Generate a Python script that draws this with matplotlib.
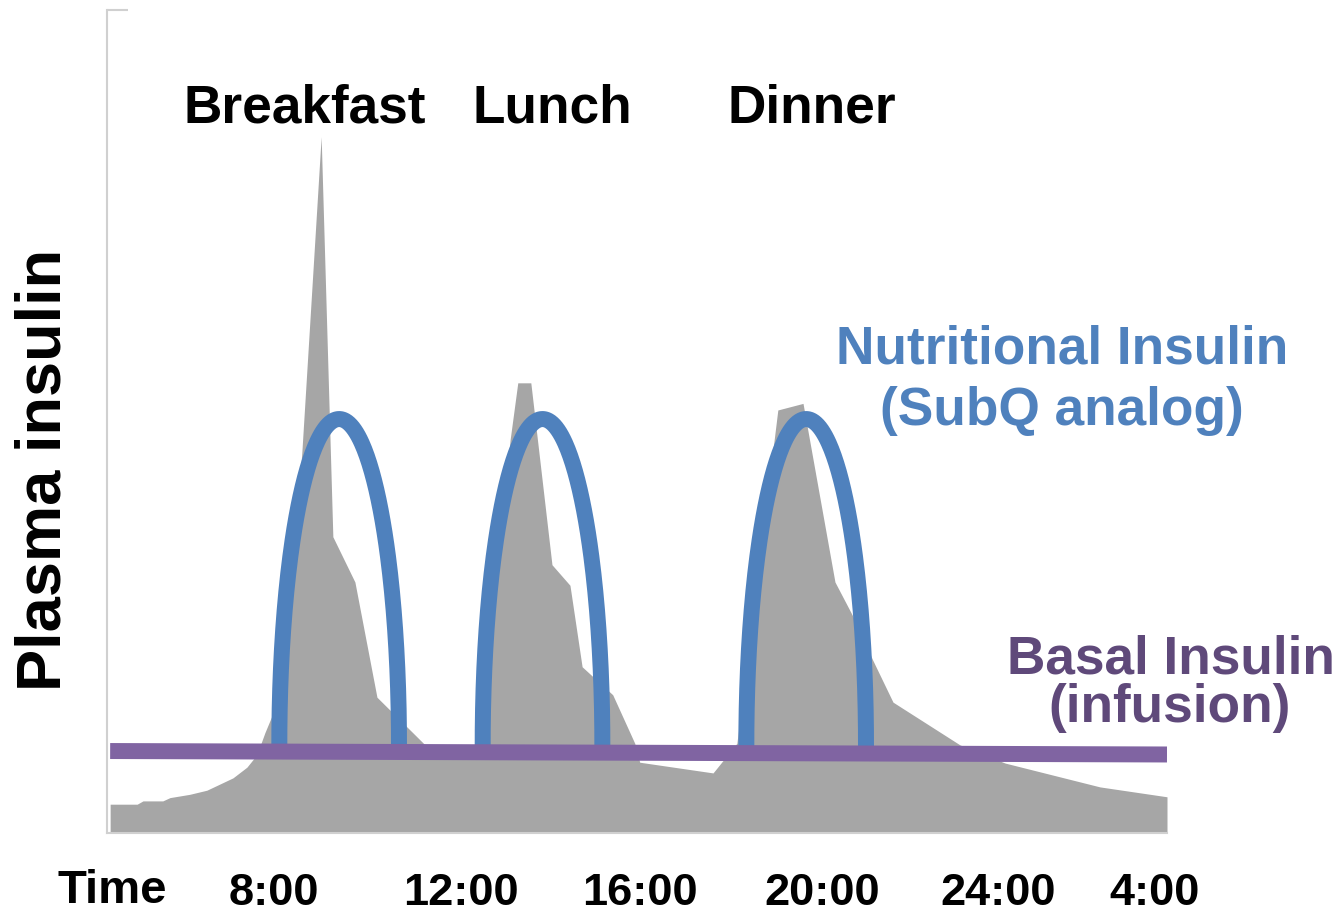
import matplotlib.pyplot as plt
import numpy as np

plt.rcParams['font.family'] = ['Liberation Sans', 'DejaVu Sans']
plt.rcParams['font.weight'] = 'bold'

# physiological plasma insulin profile over the day (hours, relative level 0-100)
profile_hours = [4.37, 4.97, 5.10, 5.54, 5.70, 6.14, 6.52, 7.10, 7.41, 7.63, 7.81, 7.97,
                 8.37, 8.63, 9.06, 9.32, 9.81, 10.30, 11.37, 12.59, 12.66, 12.92, 13.26,
                 13.43, 13.72, 14.19, 14.59, 14.86, 15.54, 16.03, 16.14, 17.77, 18.30,
                 19.21, 19.77, 20.48, 20.92, 21.32, 21.77, 23.26, 24.26, 26.37, 27.86]
profile_level = [3.5, 3.5, 3.9, 3.9, 4.3, 4.7, 5.2, 6.7, 8.0, 9.5, 12.2, 14.3,
                 28.3, 46.2, 84.6, 36.0, 30.5, 16.5, 10.7, 10.1, 8.9, 28.3, 47.8,
                 54.7, 54.7, 32.6, 30.1, 20.2, 16.8, 10.9, 8.6, 7.3, 10.9,
                 51.4, 52.2, 30.5, 25.9, 21.0, 15.9, 10.7, 8.5, 5.6, 4.4]

# subcutaneous analog boluses: centre hour, half width (h), foot and peak level
bolus_centers = [9.46, 13.98, 19.84]
bolus_halfwidth = 1.33
bolus_foot = 10.7
bolus_peak = 50.3

# basal infusion line
basal_hours = [4.37, 27.86]
basal_level = [9.96, 9.54]

meals = ['Breakfast', 'Lunch', 'Dinner']
meal_hours = [8.70, 14.19, 19.97]

tick_pos = [8.0, 12.17, 16.14, 20.19, 24.1, 27.59]
tick_labels = ['8:00', '12:00', '16:00', '20:00', '24:00', '4:00']

BLUE = '#4F81BD'
PURPLE = '#8064A2'
PURPLE_TEXT = '#5F497A'
GRAY = '#A6A6A6'
FS = 38.3

fig = plt.figure(figsize=(13.41, 9.11), dpi=100)
ax = fig.add_axes([107 / 1341, 1 - 833 / 911, 1060 / 1341, 823 / 911])

ax.fill_between(profile_hours, profile_level, 0, color=GRAY, lw=0, zorder=1)

t = np.linspace(np.pi, 0, 200)
for c in bolus_centers:
    xs = c + bolus_halfwidth * np.cos(t)
    ys = bolus_foot + (bolus_peak - bolus_foot) * np.sin(t)
    xs = np.concatenate([[xs[0]], xs, [xs[-1]]])
    ys = np.concatenate([[basal_level[0]], ys, [basal_level[0]]])
    ax.plot(xs, ys, color=BLUE, lw=11.5, solid_capstyle='butt', zorder=2)

ax.plot(basal_hours, basal_level, color=PURPLE, lw=11.5, solid_capstyle='butt', zorder=3)

for name, h in zip(meals, meal_hours):
    ax.text(h, 86.3, name, ha='center', va='baseline', fontsize=FS, fontweight='bold')

ax.text(25.52, 57.0, 'Nutritional Insulin', ha='center', va='baseline',
        fontsize=FS, fontweight='bold', color=BLUE)
ax.text(25.52, 49.6, '(SubQ analog)', ha='center', va='baseline',
        fontsize=FS, fontweight='bold', color=BLUE)
ax.text(27.94, 19.4, 'Basal Insulin', ha='center', va='baseline',
        fontsize=FS, fontweight='bold', color=PURPLE_TEXT, clip_on=False)
ax.text(27.92, 13.5, '(infusion)', ha='center', va='baseline',
        fontsize=FS, fontweight='bold', color=PURPLE_TEXT, clip_on=False)

ax.set_xlim(4.3, 27.86)
ax.set_ylim(0, 100)
ax.set_xticks(tick_pos, tick_labels, fontsize=32.5, fontweight='bold')
ax.tick_params(axis='x', length=0, pad=29)
ax.set_yticks([100])
ax.set_yticklabels([])
ax.tick_params(axis='y', direction='in', length=15, color='#D0D0D0', width=1.5)

for side in ['top', 'right']:
    ax.spines[side].set_visible(False)
for side in ['left', 'bottom']:
    ax.spines[side].set_color('#D0D0D0')
    ax.spines[side].set_linewidth(1.5)

fig.text(44 / 1341, 1 - 470 / 911, 'Plasma insulin', rotation=90, ha='center', va='center',
         fontsize=45.5, fontweight='bold')
fig.text(112 / 1341, 1 - 903 / 911, 'Time', ha='center', va='baseline',
         fontsize=34, fontweight='bold')

fig.savefig('out.png', dpi=100, facecolor='white')
